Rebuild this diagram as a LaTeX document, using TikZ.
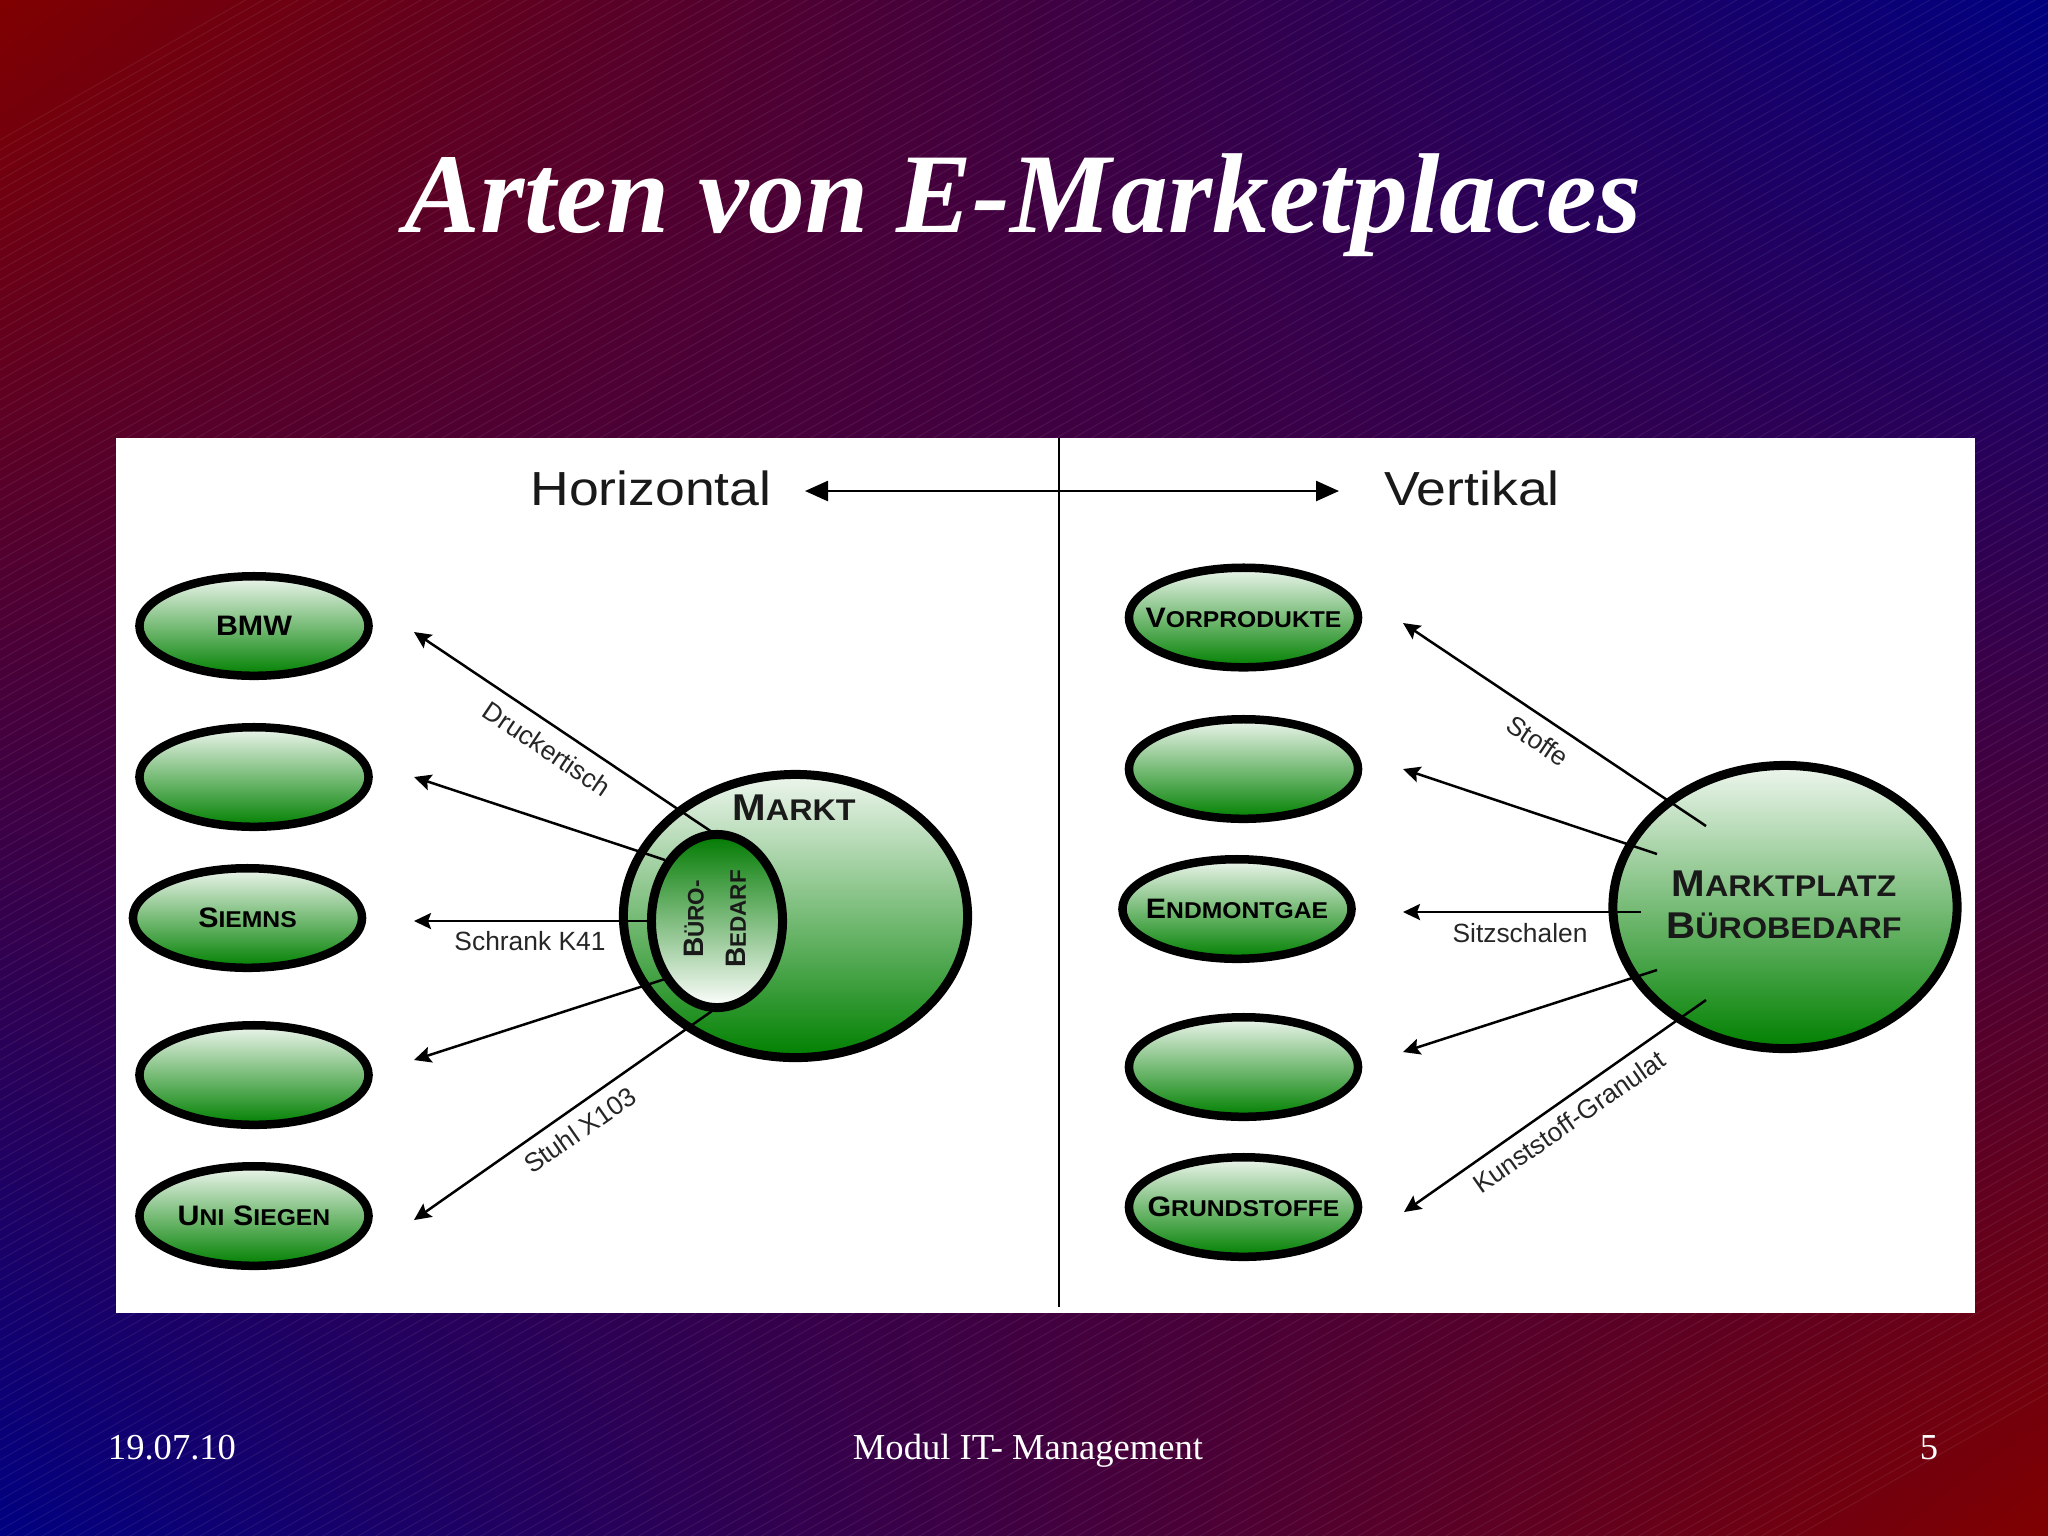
\documentclass[tikz,border=0pt]{standalone}
\usepackage{fontspec}
\setmainfont{Liberation Serif}
\setsansfont{Liberation Sans}
\newfontfamily\capfont{Liberation Sans}[FakeStretch=1.08]
\newfontfamily\headfont{Liberation Sans}[FakeStretch=1.12]
\usetikzlibrary{arrows.meta,shapes.geometric,shadings}

\definecolor{slidered}{HTML}{800000}
\definecolor{slideblue}{HTML}{000080}
\definecolor{ovaltop}{HTML}{EEF6EE}
\definecolor{ovalbottom}{HTML}{008000}

\newcommand{\ovaltxt}[2]{{\capfont\bfseries\fontsize{8}{10}\selectfont #1}{\capfont\bfseries\fontsize{6.5}{10}\selectfont #2}}
\newcommand{\marktxt}[2]{{\capfont\bfseries\fontsize{10.6}{12}\selectfont #1}{\capfont\bfseries\fontsize{8.5}{12}\selectfont #2}}
\newcommand{\buetxt}[2]{{\fontsize{8}{10}\selectfont #1}{\fontsize{6.4}{10}\selectfont #2}}

\tikzstyle{ovalnode}=[ellipse,
                         draw,
                         line width=.085cm,
                         top color=ovaltop,
                         bottom color=ovalbottom,
                         inner sep=0pt,
                         outer sep=0pt,
                         minimum width=2.29cm,
                         minimum height=.995cm]
\tikzstyle{marktnode}=[ovalnode,
                         line width=.09cm,
                         minimum width=3.44cm,
                         minimum height=2.83cm]
\tikzstyle{bueronode}=[ovalnode,
                         line width=.09cm,
                         top color=ovalbottom!95!black,
                         bottom color=white,
                         minimum width=1.31cm,
                         minimum height=1.73cm]
\tikzstyle{arrowlabel}=[font=\sffamily\fontsize{7.5}{9}\selectfont, text=black!85, inner sep=0pt]
\tikzstyle{headlabel}=[font=\headfont\fontsize{13.6}{18}\selectfont, text=black!90, inner sep=0pt, anchor=base]
\tikzstyle{captext}=[font=\sffamily\bfseries, text=black!90, inner sep=0pt, align=center]
\tikzstyle{slidetext}=[font=\fontsize{10.4}{12}\selectfont, text=white, inner sep=0pt, anchor=base]
\tikzstyle{pfeil}=[-{Stealth[length=.17cm,width=.16cm,inset=.03cm]}, line width=.025cm]

\begin{document}
\begin{tikzpicture}[x=.01cm,y=-.01cm]
    \useasboundingbox (0,0) rectangle (2048,1535);

    % background with its fine diagonal lines
    \shade [upper left=slidered, upper right=slideblue, lower left=slideblue, lower right=slidered]
        (0,0) rectangle (2048,1535);
    \begin{scope}
        \clip (0,0) rectangle (2048,1535);
        \foreach \off in {140,150,...,2565}
            \draw [white, opacity=.07, line width=.01cm] (0,\off) -- (2048,{\off-.57*2048});
    \end{scope}

    \node [font=\bfseries\itshape\fontsize{32.3}{36}\selectfont, text=white, inner sep=0pt, anchor=base] (title) at (1023,232) {Arten von E-Marketplaces};
    \node [slidetext] (date) at (172,1459) {19.07.10};
    \node [slidetext] (modul) at (1028,1459) {Modul IT- Management};
    \node [slidetext] (pagenr) at (1929,1459) {5};

    \node [fill=white, inner sep=0pt, minimum width=18.57cm, minimum height=8.75cm] (panel) at (1045.5,875.5) {};

    \coordinate (vtop) at (1059,438);
    \coordinate (vbot) at (1059,1307);
    \coordinate (hleft) at (805,491);
    \coordinate (hright) at (1339,491);
    \draw [line width=.028cm] (vtop) -- (vbot);
    \draw [{Triangle[length=.23cm,width=.2cm]}-{Triangle[length=.23cm,width=.2cm]}, line width=.025cm] (hleft) -- (hright);
    \node [headlabel] (horizontal) at (651,505) {Horizontal};
    \node [headlabel] (vertikal) at (1472,505) {Vertikal};

    % left side
    \node [ovalnode, label=center:{\ovaltxt{BMW}{}}] (bmw) at (254,626) {};
    \node [ovalnode] (lefttwo) at (254,777) {};
    \node [ovalnode, label=center:{\ovaltxt{S}{IEMNS}}] (siemns) at (247.5,918) {};
    \node [ovalnode] (leftfour) at (254,1075) {};
    \node [ovalnode, label=center:{\ovaltxt{U}{NI} \ovaltxt{S}{IEGEN}}] (uni) at (254,1216) {};

    \node [marktnode] (markt) at (795.5,916) {};
    \node [captext] (markttext) at (794,808) {\marktxt{M}{ARKT}};

    \coordinate (tipa) at (414,632);
    \coordinate (tipb) at (414,777);
    \coordinate (tipc) at (414,921);
    \coordinate (tipd) at (414,1060);
    \coordinate (tipe) at (414,1220);
    \coordinate (taila) at (712,832);
    \coordinate (tailb) at (665,860);
    \coordinate (tailc) at (650,921);
    \coordinate (taild) at (665,979);
    \coordinate (taile) at (712,1011);
    \foreach \s/\e in {taila/tipa, tailb/tipb, tailc/tipc, taild/tipd, taile/tipe}
        \draw [pfeil] (\s) -- (\e);

    \node [bueronode] (buero) at (717,921) {};
    \node [captext, rotate=90] (buerotext) at (715,919) {\buetxt{B}{ÜRO-}\\\buetxt{B}{EDARF}};

    \node [arrowlabel, rotate=-34] (druckertisch) at (547,749) {Druckertisch};
    \node [arrowlabel] (schrank) at (530,941) {Schrank K41};
    \node [arrowlabel, rotate=35] (stuhl) at (580,1130) {Stuhl X103};

    % right side
    \node [ovalnode, label=center:{\ovaltxt{V}{ORPRODUKTE}}] (vorprodukte) at (1243.5,617.5) {};
    \node [ovalnode] (righttwo) at (1243.5,769) {};
    \node [ovalnode, label=center:{\ovaltxt{E}{NDMONTGAE}}] (endmontgae) at (1237,909) {};
    \node [ovalnode] (rightfour) at (1243.5,1067) {};
    \node [ovalnode, label=center:{\ovaltxt{G}{RUNDSTOFFE}}] (grundstoffe) at (1243.5,1207) {};

    \node [marktnode] (marktplatz) at (1785,907) {};
    \node [captext] (marktplatztext) at (1784,905) {\marktxt{M}{ARKTPLATZ}\\\marktxt{B}{ÜROBEDARF}};

    \coordinate (rtipa) at (1403,623);
    \coordinate (rtipb) at (1403,769);
    \coordinate (rtipc) at (1403,912);
    \coordinate (rtipd) at (1403,1052);
    \coordinate (rtipe) at (1404,1212);
    \coordinate (rtaila) at (1706,826);
    \coordinate (rtailb) at (1657,854);
    \coordinate (rtailc) at (1641,912);
    \coordinate (rtaild) at (1657,970);
    \coordinate (rtaile) at (1706,1000);
    \foreach \s/\e in {rtaila/rtipa, rtailb/rtipb, rtailc/rtipc, rtaild/rtipd, rtaile/rtipe}
        \draw [pfeil] (\s) -- (\e);

    \node [arrowlabel, rotate=-34] (stoffe) at (1538,741) {Stoffe};
    \node [arrowlabel] (sitzschalen) at (1520,933) {Sitzschalen};
    \node [arrowlabel, rotate=35] (granulat) at (1569,1122) {Kunststoff-Granulat};
\end{tikzpicture}
\end{document}
